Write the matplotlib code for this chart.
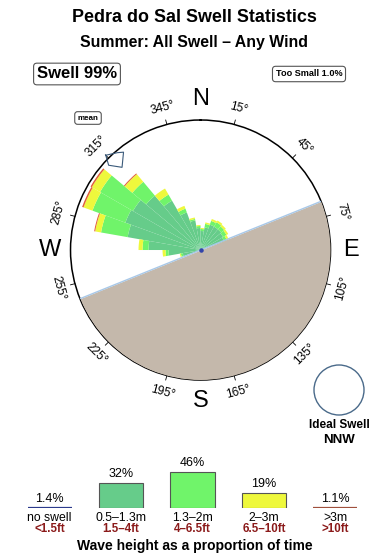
import numpy as np
import matplotlib.pyplot as plt
from matplotlib.patches import Circle

plt.rcParams['font.family'] = ['Liberation Sans', 'DejaVu Sans']

# sector centres (deg, 10 deg wide) and % of time per height band
dirs = [255, 265, 275, 285, 295, 305, 315, 325, 335, 345, 355, 5, 15, 25, 35, 45, 55, 65]
h_small = [1.8, 3.2, 5.2, 7.4, 8.0, 7.8, 7.1, 5.7, 4.0, 3.0, 2.2, 1.9, 2.3, 2.7, 2.7, 2.7, 2.6, 2.5]
h_mid = [0.2, 0.3, 0.6, 2.7, 3.5, 3.8, 1.8, 0.7, 0.4, 0.15, 0.2, 0.2, 0.35, 0.4, 0.5, 0.4, 0.4, 0.3]
h_big = [0.1, 0.3, 0.4, 0.6, 0.95, 0.95, 1.0, 0.7, 0.3, 0.15, 0.1, 0.1, 0.15, 0.2, 0.2, 0.2, 0.2, 0.2]
h_huge = [0, 0, 0, 0.1, 0.15, 0.15, 0.1, 0, 0, 0, 0, 0, 0, 0, 0, 0, 0, 0]
rmax = 13.0
coast_dir = 68
mean_dir = 316

tick_dirs = [15, 45, 75, 105, 135, 165, 195, 225, 255, 285, 315, 345]
compass = {'N': 0, 'E': 90, 'S': 180, 'W': 270}

# legend along the bottom
bands = ['no swell', '0.5–1.3m', '1.3–2m', '2–3m', '>3m']
bands_ft = ['<1.5ft', '1.5–4ft', '4–6.5ft', '6.5–10ft', '>10ft']
band_pct = [1.4, 32, 46, 19, 1.1]
band_lbl = ['1.4%', '32%', '46%', '19%', '1.1%']
band_colors = ['#2b3a8c', '#66cc8a', '#70f46a', '#eef83c', '#e0603a']
land_col = '#c4b8ab'

fig = plt.figure(figsize=(3.9, 5.6), dpi=100)

# overlay in pixel coords for titles and boxes
ov = fig.add_axes([0, 0, 1, 1])
ov.set_xlim(0, 390)
ov.set_ylim(560, 0)
ov.axis('off')
ov.text(194, 18, 'Pedra do Sal Swell Statistics', ha='center', va='center',
        fontsize=12.9, fontweight='bold')
ov.text(194, 42, 'Summer: All Swell – Any Wind', ha='center', va='center',
        fontsize=11.4, fontweight='bold')
ov.text(77, 74, 'Swell 99%', ha='center', va='center', fontsize=12, fontweight='bold',
        bbox=dict(boxstyle='round,pad=0.2', fc='white', ec='#555555', lw=0.8))
ov.text(309, 74, 'Too Small 1.0%', ha='center', va='center', fontsize=6.6,
        fontweight='bold',
        bbox=dict(boxstyle='round,pad=0.35', fc='white', ec='#555555', lw=0.8))
ov.text(88, 118, 'mean', ha='center', va='center', fontsize=5.8, fontweight='bold',
        bbox=dict(boxstyle='round,pad=0.35', fc='white', ec='#555555', lw=0.8))
ov.add_patch(Circle((339, 390), 25, fill=False, ec='#4a6a8a', lw=1))
ov.text(339, 425, 'Ideal Swell', ha='center', va='center', fontsize=8.5, fontweight='bold')
ov.text(339, 440, 'NNW', ha='center', va='center', fontsize=9.5, fontweight='bold')
ov.text(195, 546, 'Wave height as a proportion of time', ha='center', va='center',
        fontsize=10, fontweight='bold')

# rose
ax = fig.add_axes([0.1808, 0.3214, 0.6667, 0.4643], projection='polar')
ax.set_theta_zero_location('N')
ax.set_theta_direction(-1)
th = np.radians(dirs)
bottom = np.zeros(len(dirs))
for vals, col in zip([h_small, h_mid, h_big, h_huge], band_colors[1:]):
    vals = np.array(vals)
    ax.bar(th, vals, width=np.radians(10), bottom=bottom, color=col,
           edgecolor='none', linewidth=0, zorder=2)
    bottom += vals

land_th = np.radians(np.linspace(coast_dir, coast_dir + 180, 200))
ax.fill_between(land_th, 0, rmax, color=land_col, lw=0, zorder=3)
for d in [coast_dir, coast_dir + 180]:
    ax.plot([np.radians(d)] * 2, [0, rmax], color='#a8c8e8', lw=1, zorder=4)
ax.scatter([0], [0], s=5, color='#3344aa', zorder=5)

# mean direction marker
mk_d = np.array([-1, -3.3, 0.5, 5.8, 3.5, -1]) + mean_dir
mk_r = [13.4, 12.5, 11.4, 12.45, 12.8, 13.4]
ax.plot(np.radians(mk_d), mk_r, color='#3a5a7a', lw=0.8, zorder=6, clip_on=False)

ax.set_ylim(0, rmax)
ax.set_xticks([])
ax.set_yticks([])
ax.grid(False)
ax.spines['polar'].set_linewidth(1.1)
ax.spines['polar'].set_color('black')

for d in tick_dirs:
    t = np.radians(d)
    ax.plot([t, t], [rmax, rmax * 1.035], color='black', lw=0.6, clip_on=False)
    rot = -d if (d < 90 or d > 270) else 180 - d
    ax.text(t, rmax * 1.13, f'{d}°', rotation=rot, rotation_mode='anchor',
            ha='center', va='center', fontsize=8.6)
for k, d in compass.items():
    ax.text(np.radians(d), rmax * 1.16, k, ha='center', va='center', fontsize=17)

# bottom legend
lg = fig.add_axes([14 / 390, 52.5 / 560, 357 / 390, 46.8 / 560])
x = np.arange(len(bands))
lg.bar(x[1:4], band_pct[1:4], width=0.62, color=band_colors[1:4],
       edgecolor='#555555', lw=0.8)
line_cols = ['#2b3a8c', '#a0503c']
for i, c in zip([0, 4], line_cols):
    lg.hlines(0, i - 0.31, i + 0.31, color=c, lw=1.6)
for i in x:
    h = band_pct[i] if 0 < i < 4 else 0
    lg.annotate(band_lbl[i], (i, h), xytext=(0, 6.3), textcoords='offset points',
                ha='center', va='center', fontsize=9)
    lg.annotate(bands[i], (i, 0), xytext=(0, -7.8), textcoords='offset points',
                ha='center', va='center', fontsize=8.8)
    lg.annotate(bands_ft[i], (i, 0), xytext=(0, -15.8), textcoords='offset points',
                ha='center', va='center', fontsize=8.3, fontweight='bold',
                color='#8b1a1a', family='Liberation Sans')
lg.set_xlim(-0.5, 4.5)
lg.set_ylim(0, 60)
lg.axis('off')

fig.savefig('out.png', dpi=100)
